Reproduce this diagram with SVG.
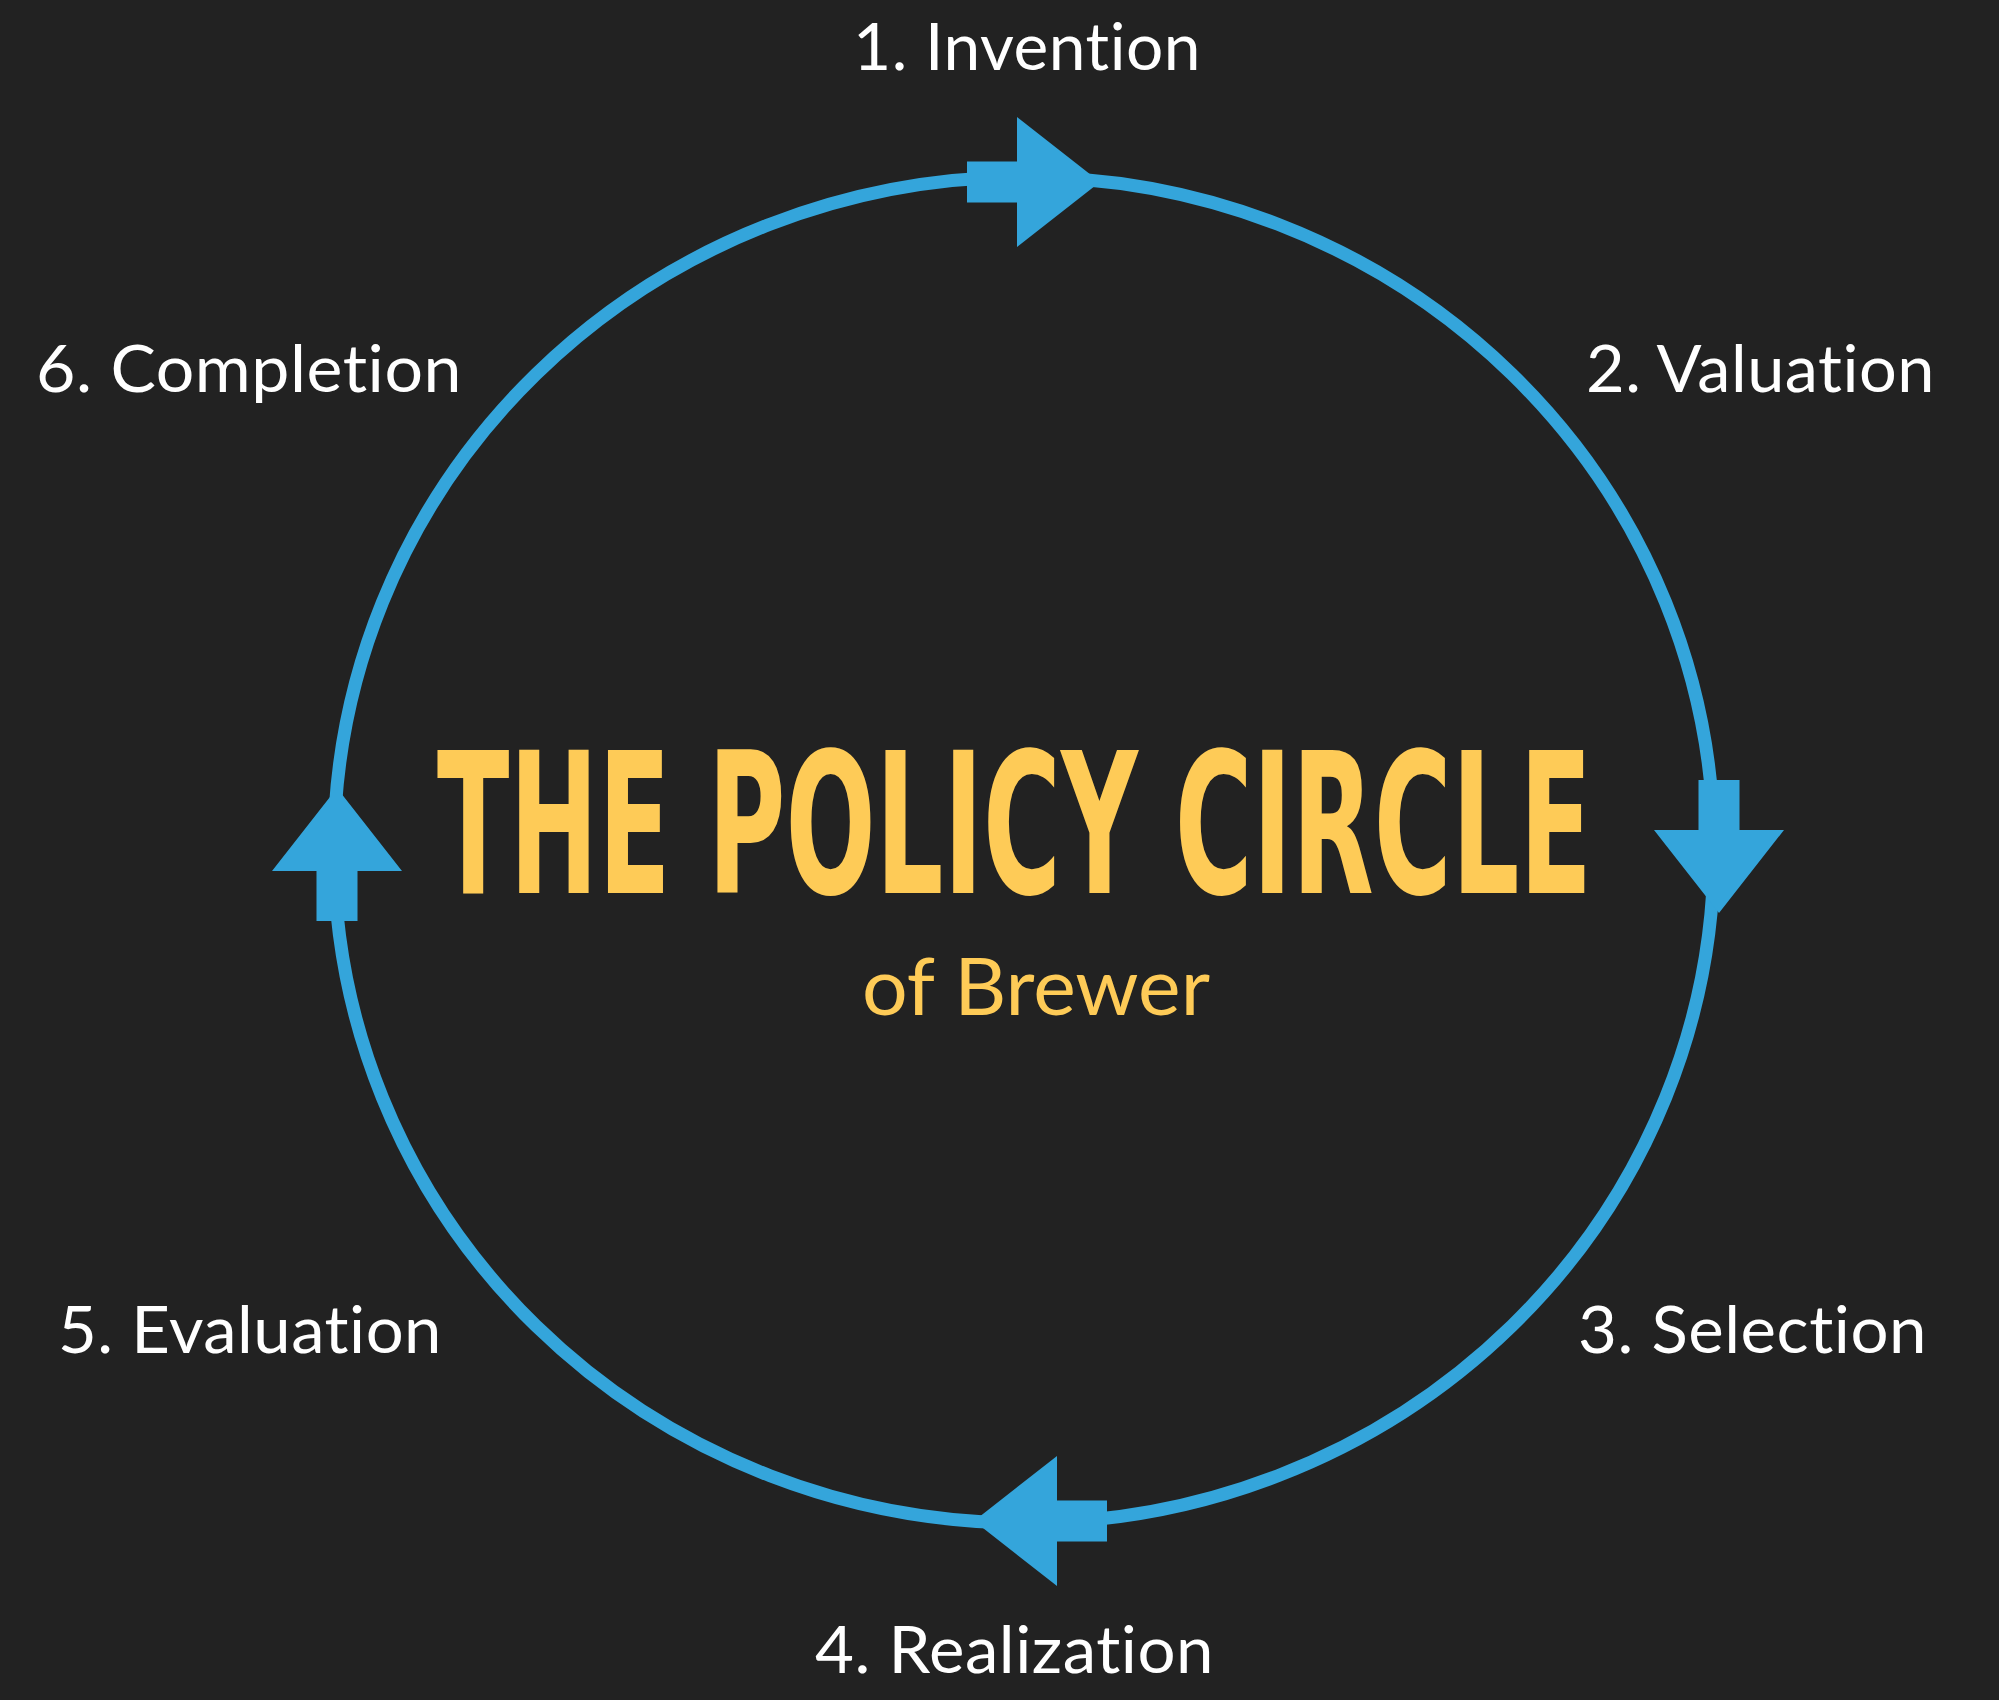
<svg xmlns="http://www.w3.org/2000/svg" xmlns:xlink="http://www.w3.org/1999/xlink" width="1999" height="1700" viewBox="0 0 1999 1700">
  <defs>
    <style>
      text { font-variant-ligatures: none; font-feature-settings: "liga" 0, "clig" 0, "calt" 0, "dlig" 0; }
      .lbl { font-family: "Lato", "Noto Sans", "Liberation Sans", sans-serif; font-size: 66px; fill: #ffffff; letter-spacing: 0.5px; }
      .title { font-family: "Liberation Sans Narrow", "DejaVu Sans Condensed", "Liberation Sans", sans-serif; font-weight: bold; font-size: 197px; fill: #fecb57; }
      .sub { font-family: "Lato", "Noto Sans", "Liberation Sans", sans-serif; font-size: 80px; fill: #fecb57; }
      .ring { fill: none; stroke: #34a5db; stroke-width: 13; }
      .arrow { fill: #34a5db; }
    </style>
    <polygon id="arr" class="arrow" points="-133,-20.5 -83,-20.5 -83,-65 0,0 -83,65 -83,20.5 -133,20.5"/>
  </defs>
  <rect x="0" y="0" width="1999" height="1700" fill="#222222"/>

  <g id="connectors">
    <ellipse class="ring" cx="1024" cy="850" rx="690" ry="673"/>
    <use xlink:href="#arr" href="#arr" transform="translate(1100,182)"/>
    <use xlink:href="#arr" href="#arr" transform="translate(1719,913) rotate(90)"/>
    <use xlink:href="#arr" href="#arr" transform="translate(974,1521) rotate(180)"/>
    <use xlink:href="#arr" href="#arr" transform="translate(337,788) rotate(-90)"/>
  </g>

  <g id="title">
    <text class="title" x="437" y="893" textLength="1155" lengthAdjust="spacingAndGlyphs">THE POLICY CIRCLE</text>
    <text class="sub" x="862" y="1015" textLength="348" lengthAdjust="spacingAndGlyphs">of Brewer</text>
  </g>

  <g id="n1"><text class="lbl" x="853" y="70" textLength="348" lengthAdjust="spacingAndGlyphs">1. Invention</text></g>
  <g id="n2"><text class="lbl" x="1586" y="392" textLength="349" lengthAdjust="spacingAndGlyphs">2. Valuation</text></g>
  <g id="n3"><text class="lbl" x="1578" y="1353" textLength="349" lengthAdjust="spacingAndGlyphs">3. Selection</text></g>
  <g id="n4"><text class="lbl" x="815" y="1673" textLength="399" lengthAdjust="spacingAndGlyphs">4. Realization</text></g>
  <g id="n5"><text class="lbl" x="58" y="1353" textLength="384" lengthAdjust="spacingAndGlyphs">5. Evaluation</text></g>
  <g id="n6"><text class="lbl" x="36" y="392" textLength="426" lengthAdjust="spacingAndGlyphs">6. Completion</text></g>
</svg>
